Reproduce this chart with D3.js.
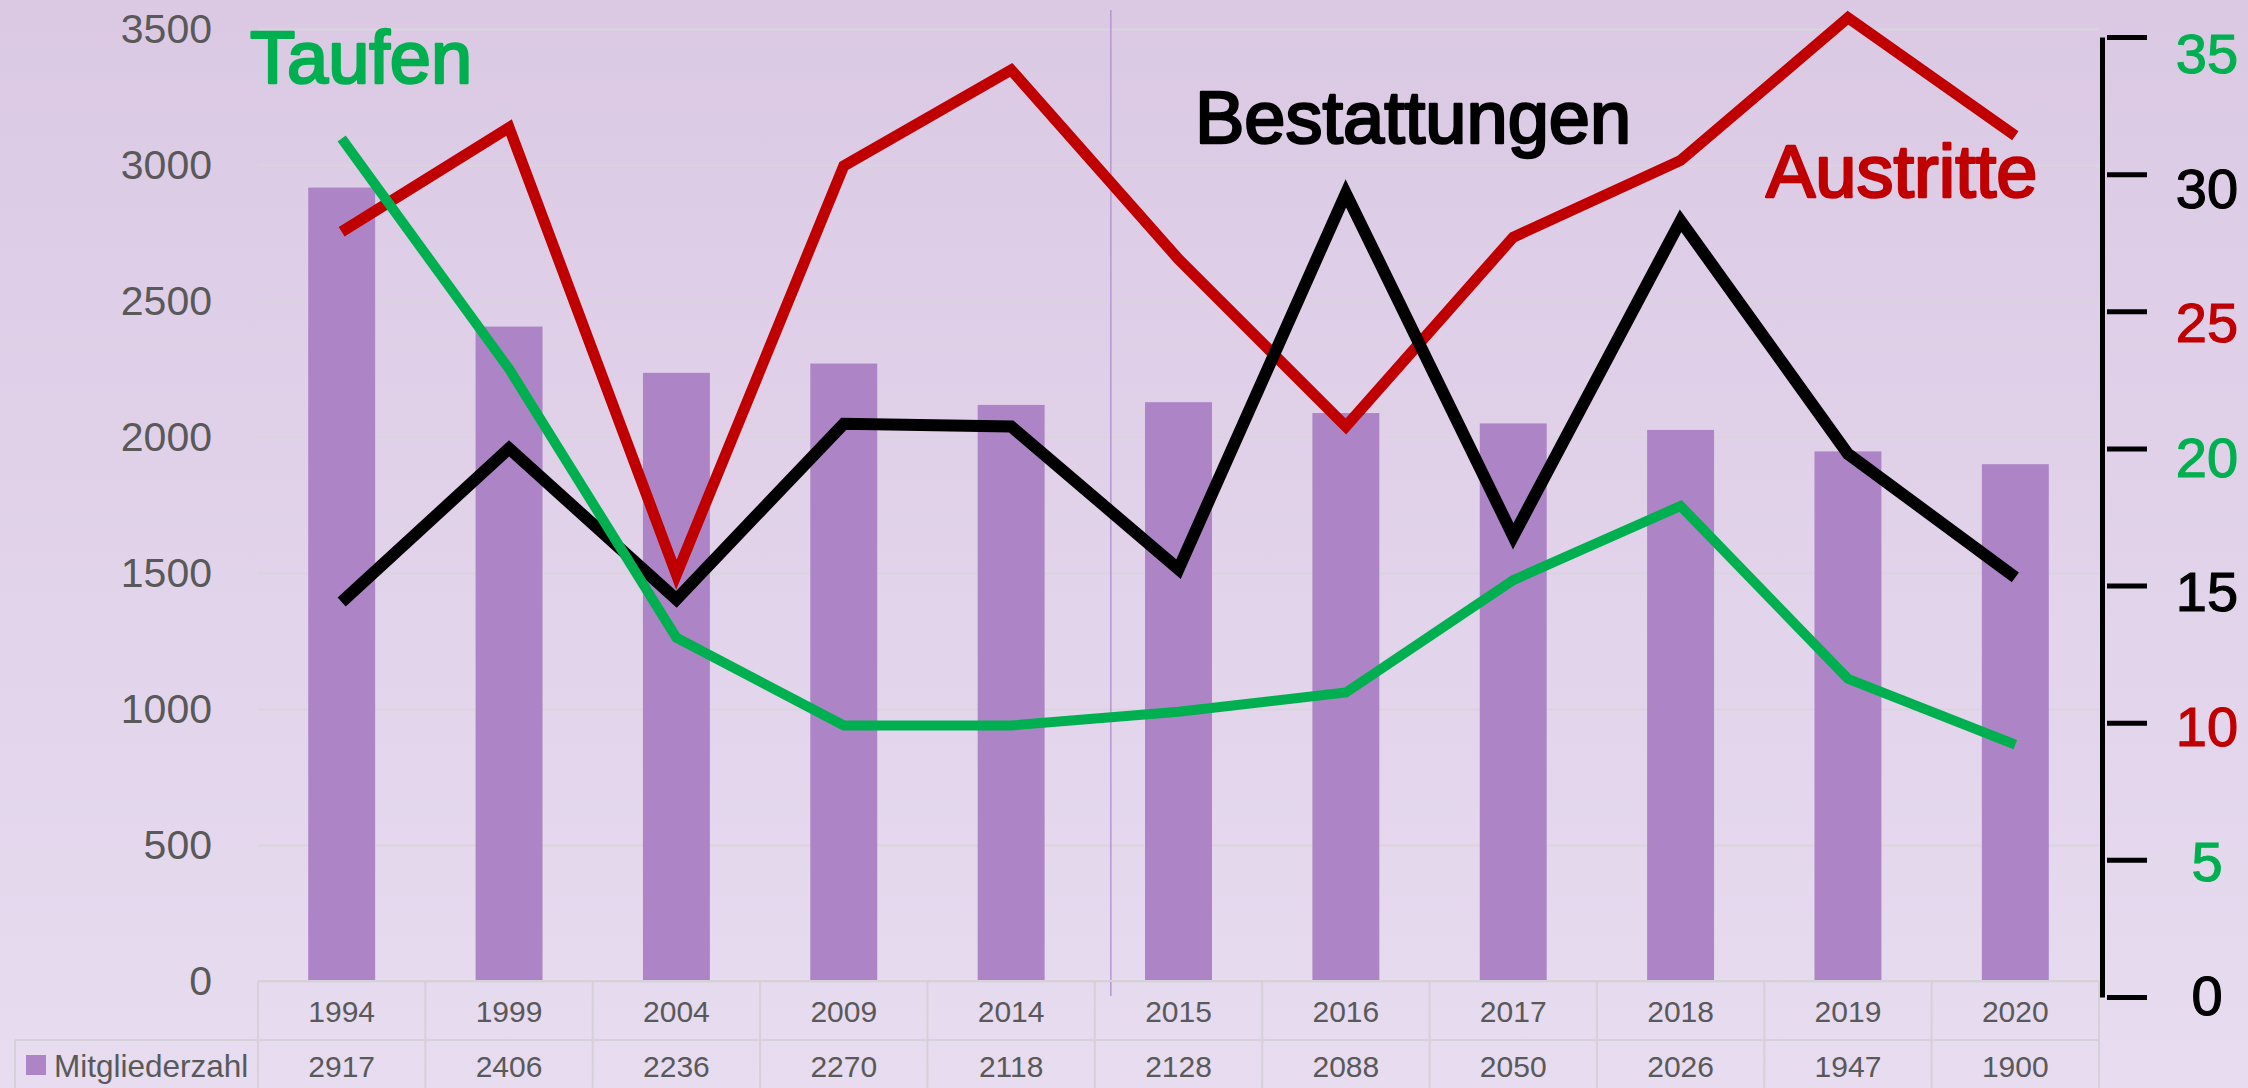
<!DOCTYPE html>
<html>
<head>
<meta charset="utf-8">
<script src="https://cdn.jsdelivr.net/npm/d3@7"></script>
<style>
  html, body { margin: 0; padding: 0; overflow: hidden; }
  svg { display: block; font-family: "Liberation Sans", Arial, sans-serif; }
</style>
</head>
<body>
<svg id="chart"></svg>
<script>
// categories and values
const years = ["1994", "1999", "2004", "2009", "2014", "2015", "2016", "2017", "2018", "2019", "2020"];
const mitglieder = [2917, 2406, 2236, 2270, 2118, 2128, 2088, 2050, 2026, 1947, 1900];
const taufen = [31.3, 22.9, 13.1, 9.9, 9.9, 10.4, 11.1, 15.2, 17.9, 11.6, 9.2];
const austritte = [27.9, 31.7, 15.4, 30.3, 33.8, 26.9, 20.8, 27.7, 30.5, 35.7, 31.4];
const bestattungen = [14.4, 20.0, 14.5, 20.9, 20.8, 15.6, 29.3, 16.8, 28.3, 19.8, 15.3];
const leftTicks = [0, 500, 1000, 1500, 2000, 2500, 3000, 3500];
const rightTicks = [0, 5, 10, 15, 20, 25, 30, 35];

const width = 2248, height = 1088;
const plot = { left: 258, right: 2099, top: 29, bottom: 981 };
const colors = { taufen: "#00b050", austritte: "#c00000", bestattungen: "#000000", bar: "#ad85c6", text: "#595959", grid: "#d9d4dd" };
const rightTickColors = [colors.bestattungen, colors.taufen, colors.austritte];

const svg = d3.select("#chart").attr("width", width).attr("height", height);

// background gradient
const grad = svg.append("defs").append("linearGradient")
    .attr("id", "bg").attr("x1", 0).attr("y1", 0).attr("x2", 0).attr("y2", 1);
grad.append("stop").attr("offset", "0%").attr("stop-color", "#dbc9e4");
grad.append("stop").attr("offset", "100%").attr("stop-color", "#e7dcf0");
svg.append("rect").attr("width", width).attr("height", height).attr("fill", "url(#bg)");

const x = d3.scaleBand().domain(years).range([plot.left, plot.right]);
const bw = x.bandwidth();
const yLeft = d3.scaleLinear().domain([0, 3500]).range([plot.bottom, plot.top]);
const yRight = d3.scaleLinear().domain([0, 35]).range([997, 37]);
const yRightLabel = d3.scaleLinear().domain([0, 35]).range([995, 53]);

// gridlines
svg.append("g")
    .attr("transform", `translate(${plot.left},0)`)
    .call(d3.axisLeft(yLeft).tickValues(leftTicks).tickSize(-(plot.right - plot.left)).tickFormat(""))
    .call(g => g.select(".domain").remove())
    .call(g => g.selectAll("line").attr("stroke", colors.grid).attr("stroke-width", 2));

// left axis labels
svg.append("g")
    .attr("transform", `translate(${plot.left},0)`)
    .call(d3.axisLeft(yLeft).tickValues(leftTicks).tickSize(0).tickPadding(46).tickFormat(d3.format("d")))
    .call(g => g.select(".domain").remove())
    .call(g => g.selectAll("text")
        .attr("fill", colors.text)
        .style("font-size", "41px")
        .style("font-family", "'Liberation Sans', Arial, sans-serif"));

// bars
svg.append("g").selectAll("rect")
    .data(mitglieder)
    .enter().append("rect")
    .attr("x", (d, i) => x(years[i]) + bw * 0.3)
    .attr("width", bw * 0.4)
    .attr("y", d => yLeft(d))
    .attr("height", d => yLeft(0) - yLeft(d))
    .attr("fill", colors.bar);

// divider between 2014 and 2015
svg.append("line")
    .attr("x1", x("2015") + 16).attr("x2", x("2015") + 16)
    .attr("y1", 10).attr("y2", 996)
    .attr("stroke", "#b597d0")
    .attr("stroke-width", 1.5);

// table under the chart
const table = svg.append("g").attr("stroke", "#d6d0d9").attr("stroke-width", 2);
table.append("line").attr("x1", plot.left).attr("x2", plot.right).attr("y1", 981).attr("y2", 981);
table.append("line").attr("x1", 15).attr("x2", plot.right).attr("y1", 1040).attr("y2", 1040);
table.append("line").attr("x1", 15).attr("x2", 15).attr("y1", 1040).attr("y2", height);
table.selectAll(".col")
    .data(years.concat(["end"]))
    .enter().append("line")
    .attr("x1", (d, i) => plot.left + i * bw)
    .attr("x2", (d, i) => plot.left + i * bw)
    .attr("y1", 981).attr("y2", height);

svg.append("g").selectAll("text")
    .data(years)
    .enter().append("text")
    .attr("x", d => x(d) + bw / 2)
    .attr("y", 1022)
    .attr("text-anchor", "middle")
    .attr("fill", colors.text)
    .style("font-size", "30px")
    .text(d => d);

svg.append("g").selectAll("text")
    .data(mitglieder)
    .enter().append("text")
    .attr("x", (d, i) => x(years[i]) + bw / 2)
    .attr("y", 1077)
    .attr("text-anchor", "middle")
    .attr("fill", colors.text)
    .style("font-size", "30px")
    .text(d => d);

svg.append("rect").attr("x", 26).attr("y", 1055).attr("width", 20).attr("height", 20).attr("fill", colors.bar);
svg.append("text").attr("x", 54).attr("y", 1077)
    .attr("fill", colors.text).style("font-size", "31.5px")
    .text("Mitgliederzahl");

// lines (right axis)
const line = d3.line()
    .x((d, i) => x(years[i]) + bw / 2)
    .y(d => yRight(d));

const series = [
    { name: "Austritte", values: austritte, color: colors.austritte, w: 11 },
    { name: "Bestattungen", values: bestattungen, color: colors.bestattungen, w: 12 },
    { name: "Taufen", values: taufen, color: colors.taufen, w: 10 }
];

svg.append("g").selectAll("path")
    .data(series)
    .enter().append("path")
    .attr("d", d => line(d.values))
    .attr("fill", "none")
    .attr("stroke", d => d.color)
    .attr("stroke-width", d => d.w)
    .attr("stroke-linejoin", "miter")
    .attr("stroke-linecap", "butt");

// right axis
const rightAxis = svg.append("g")
    .attr("transform", "translate(2102,0)")
    .call(d3.axisRight(yRight).tickValues(rightTicks).tickSize(45).tickSizeOuter(0).tickFormat(""));
rightAxis.select(".domain").attr("stroke", "#000").attr("stroke-width", 5);
rightAxis.selectAll(".tick line").attr("x1", 5).attr("stroke", "#000").attr("stroke-width", 5);

svg.append("g").selectAll("text")
    .data(rightTicks)
    .enter().append("text")
    .attr("x", 2207)
    .attr("y", d => yRightLabel(d))
    .attr("dy", "0.36em")
    .attr("text-anchor", "middle")
    .attr("fill", (d, i) => rightTickColors[i % 3])
    .attr("stroke", (d, i) => rightTickColors[i % 3])
    .attr("stroke-width", 1.2)
    .style("font-size", "56px")
    .text(d => d);

// series labels
const labels = [
    { text: "Taufen", color: colors.taufen, x: 250, y: 83 },
    { text: "Bestattungen", color: colors.bestattungen, x: 1195, y: 143 },
    { text: "Austritte", color: colors.austritte, x: 1766, y: 197 }
];
svg.append("g").selectAll("text")
    .data(labels)
    .enter().append("text")
    .attr("x", d => d.x)
    .attr("y", d => d.y)
    .attr("fill", d => d.color)
    .attr("stroke", d => d.color)
    .attr("stroke-width", 2.5)
    .attr("stroke-linejoin", "round")
    .style("font-size", "74px")
    .text(d => d.text);
</script>
</body>
</html>
